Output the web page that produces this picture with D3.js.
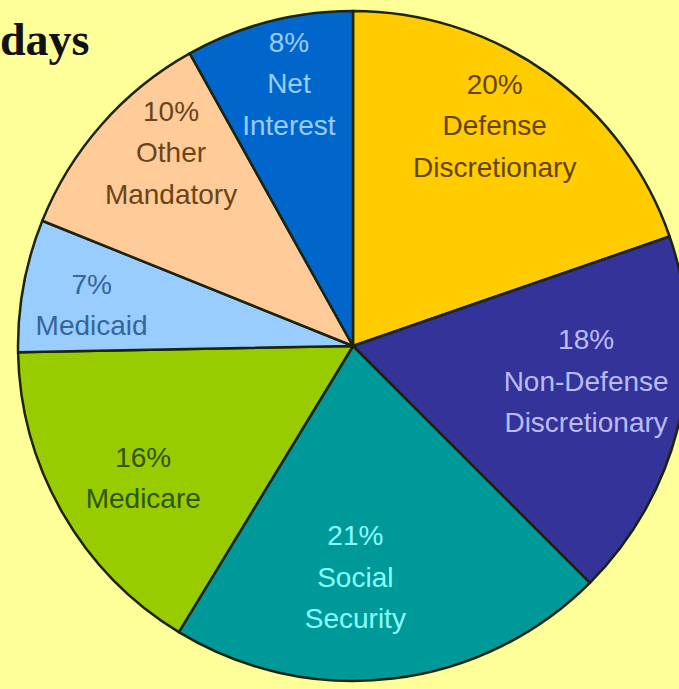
<!DOCTYPE html>
<html>
<head>
<meta charset="utf-8">
<script src="https://cdn.jsdelivr.net/npm/d3@7"></script>
<style>
  html, body { margin: 0; padding: 0; background: #FFFF99; overflow: hidden; }
  svg { display: block; }
</style>
</head>
<body>
<svg id="chart" width="679" height="689"></svg>
<script>
// ---- Data ----
const categories = ["Defense Discretionary", "Non-Defense Discretionary", "Social Security", "Medicare", "Medicaid", "Other Mandatory", "Net Interest"];
const labelLines = [["Defense", "Discretionary"], ["Non-Defense", "Discretionary"], ["Social", "Security"], ["Medicare"], ["Medicaid"], ["Other", "Mandatory"], ["Net", "Interest"]];
// slice sizes as drawn in the picture (percent of total)
const shares = [19.7, 17.8, 21.2, 16.0, 6.4, 10.8, 8.1];
// percentages printed on the slices
const pctLabels = ["20%", "18%", "21%", "16%", "7%", "10%", "8%"];
const titleText = "days";

// ---- Styles ----
const fills = ["#FFCC00", "#333399", "#009999", "#99CC00", "#99CCFF", "#FFCC99", "#0066CC"];
const textColors = ["#664400", "#BBBBF5", "#88FFFF", "#2F5500", "#336699", "#6B4418", "#99CCFF"];
// label nudges (px) from the slice centroid, layout only
const labelNudge = [[-6, -13], [-15, -22], [-28, -22], [11, 5], [-11, 5], [9, -25], [0, -16]];

const W = 679, H = 689;
const cx = 353, cy = 346, R = 335;
const svg = d3.select("#chart");

svg.append("rect").attr("width", W).attr("height", H).attr("fill", "#FFFF99");

svg.append("text")
  .attr("x", 0).attr("y", 55)
  .attr("font-family", "'Liberation Serif', 'Times New Roman', serif")
  .attr("font-weight", "bold")
  .attr("font-size", 46)
  .attr("fill", "#111")
  .text(titleText);

const data = categories.map((c, i) => ({ cat: c, value: shares[i], i }));
const pie = d3.pie().sort(null).value(d => d.value).startAngle(0).endAngle(2 * Math.PI);
const arcs = pie(data);
const arc = d3.arc().innerRadius(0).outerRadius(R);
const labelArc = d3.arc().innerRadius(R * 0.76).outerRadius(R * 0.76);

const g = svg.append("g").attr("transform", `translate(${cx},${cy})`);

g.selectAll("path.slice").data(arcs).enter().append("path")
  .attr("class", "slice")
  .attr("d", arc)
  .attr("fill", d => fills[d.data.i])
  .attr("stroke", "#1c2410")
  .attr("stroke-width", 2.5)
  .attr("stroke-linejoin", "round");

const fs = 28, lh = 41.5;
const labels = g.selectAll("g.lbl").data(arcs).enter().append("g")
  .attr("class", "lbl")
  .attr("transform", d => {
    const [x, y] = labelArc.centroid(d);
    const [nx, ny] = labelNudge[d.data.i];
    return `translate(${x + nx},${y + ny})`;
  });

labels.each(function(d) {
  const lines = [pctLabels[d.data.i]].concat(labelLines[d.data.i]);
  const n = lines.length;
  const t = d3.select(this).append("text")
    .attr("text-anchor", "middle")
    .attr("font-family", "'Liberation Sans', Arial, sans-serif")
    .attr("font-size", fs)
    .attr("fill", textColors[d.data.i]);
  lines.forEach((ln, k) => {
    t.append("tspan")
      .attr("x", 0)
      .attr("y", (k - (n - 1) / 2) * lh)
      .attr("dy", "0.35em")
      .text(ln);
  });
});
</script>
</body>
</html>
